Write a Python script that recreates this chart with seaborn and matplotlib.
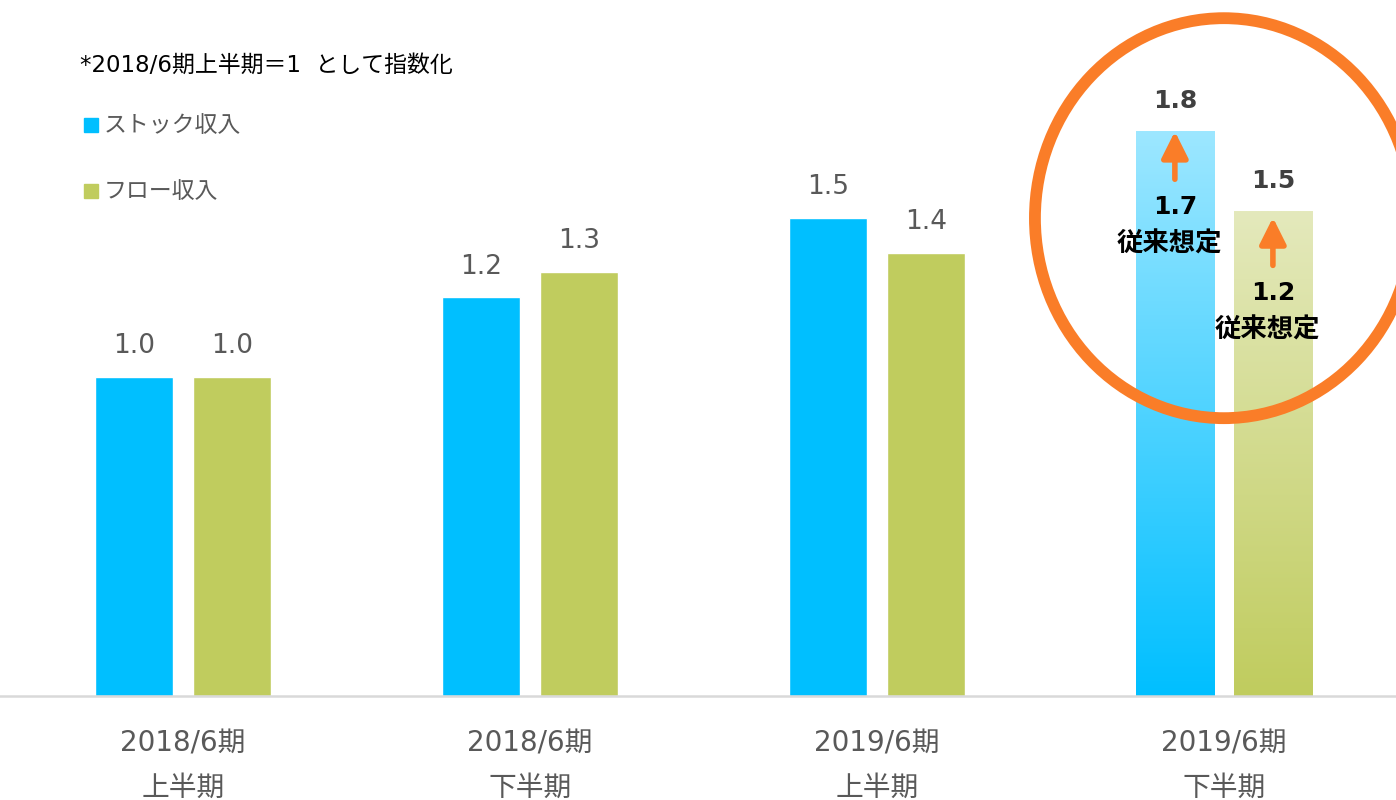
import numpy as np
import pandas as pd
import matplotlib
matplotlib.use("Agg")
import matplotlib.pyplot as plt
from matplotlib.patches import Rectangle, Ellipse, FancyArrowPatch
import seaborn as sns

# ---- data ----
periods = ["2018/6期\n上半期", "2018/6期\n下半期", "2019/6期\n上半期", "2019/6期\n下半期"]
series_names = ["ストック収入", "フロー収入"]
stock_values = [1.0, 1.25, 1.5, 1.77]
flow_values = [1.0, 1.33, 1.39, 1.52]
stock_labels = ["1.0", "1.2", "1.5", "1.8"]
flow_labels = ["1.0", "1.3", "1.4", "1.5"]
prev_assumption_labels = ["1.7", "1.2"]   # 従来想定 (stock, flow) for last period
note_text = "*2018/6期上半期＝1  として指数化"
prev_text = "従来想定"

stock_color = "#00BFFF"
flow_color = "#C0CC5E"
stock_light = "#9DE7FF"
flow_light = "#E4E9BC"
orange = "#FA7D28"
gray_text = "#595959"

sns.set_theme(style="white")
plt.rcParams['font.family'] = ['DejaVu Sans', 'Noto Sans CJK JP']

df = pd.DataFrame({
    "period": periods * 2,
    "type": [series_names[0]] * 4 + [series_names[1]] * 4,
    "value": stock_values + flow_values,
})

fig = plt.figure(figsize=(13.96, 8.0), dpi=100)
ax = fig.add_axes([0.0, 0.13, 1.0, 0.87])

sns.barplot(data=df, x="period", y="value", hue="type", order=periods,
            hue_order=series_names, palette=[stock_color, flow_color],
            width=0.565, gap=0.204, ax=ax, legend=False, saturation=1.0,
            errorbar=None)

ax.set_xlim(-0.527, 3.496)
ax.set_ylim(0, 2.182)

# gradient for the last-period bars
last = len(periods) - 1
for cont, c_bottom, c_top in zip(ax.containers, [stock_color, flow_color], [stock_light, flow_light]):
    p = cont.patches[last]
    x0, w, h = p.get_x(), p.get_width(), p.get_height()
    cb = np.array(matplotlib.colors.to_rgb(c_bottom))
    ct = np.array(matplotlib.colors.to_rgb(c_top))
    t = np.linspace(0, 1, 256)[:, None]
    grad = (cb[None, :] * (1 - t) + ct[None, :] * t)[:, None, :]
    im = ax.imshow(grad, extent=[x0, x0 + w, 0, h], origin="lower",
                   aspect="auto", zorder=p.get_zorder() + 0.1, interpolation="bilinear")
    im.set_clip_path(p)

ax.set_xlim(-0.527, 3.496)
ax.set_ylim(0, 2.182)

# value labels
for ci, (cont, labels) in enumerate(zip(ax.containers, [stock_labels, flow_labels])):
    for i, (p, lab) in enumerate(zip(cont.patches, labels)):
        xc = p.get_x() + p.get_width() / 2
        top = p.get_height()
        if i == last:
            ax.annotate(lab, (xc, top), xytext=(0, 22), textcoords="offset points",
                        ha="center", va="center", fontsize=18, fontweight="bold",
                        color="#404040", zorder=6)
        else:
            ax.annotate(lab, (xc, top), xytext=(0, 22), textcoords="offset points",
                        ha="center", va="center", fontsize=19, color=gray_text, zorder=6)

# arrows and previous-assumption labels
tip_gaps = [0.0, 0.02]
arrow_len = 0.15
for cont, plab, tg in zip(ax.containers, prev_assumption_labels, tip_gaps):
    p = cont.patches[last]
    xc = p.get_x() + p.get_width() / 2
    top = p.get_height() - tg
    tail = top - arrow_len
    arr = FancyArrowPatch((xc, tail), (xc, top), arrowstyle="-|>,head_width=0.4,head_length=0.8",
                          mutation_scale=20, lw=4, color=orange, shrinkA=0, shrinkB=0, zorder=7)
    ax.add_patch(arr)
    ax.text(xc, tail - 0.088, plab, ha="center", va="center", fontsize=18,
            fontweight="bold", color="black", zorder=7)
    ax.text(xc - 0.015, tail - 0.205, prev_text, ha="center", va="center", fontsize=19,
            fontweight="bold", color="black", zorder=7)

# highlight ellipse around last period
ell = Ellipse((last, 1.498), width=1.089, height=1.254, fill=False,
              edgecolor=orange, lw=8.5, zorder=5, clip_on=False)
ax.add_patch(ell)

# axes styling
for s in ["top", "right", "left"]:
    ax.spines[s].set_visible(False)
ax.spines["bottom"].set_color("#D9D9D9")
ax.spines["bottom"].set_linewidth(1.8)
ax.set_yticks([])
ax.set_xlabel("")
ax.set_ylabel("")
ax.set_xticks(range(len(periods)))
ax.set_xticklabels(periods, fontsize=20, color=gray_text, linespacing=1.75)
ax.tick_params(axis="x", length=0, pad=24)

# note and legend
W, H = 1396.0, 800.0
fig.text(80 / W, 1 - 65 / H, note_text, fontsize=16.5, color="black", va="center", ha="left")
for yy, name, col in [(125, series_names[0], stock_color), (191, series_names[1], flow_color)]:
    fig.add_artist(Rectangle((84 / W, 1 - (yy + 7) / H), 14 / W, 14 / H,
                             transform=fig.transFigure, color=col))
    fig.text(104 / W, 1 - yy / H, name, fontsize=16.5, color=gray_text, va="center", ha="left")

fig.savefig("out.png", dpi=100)
